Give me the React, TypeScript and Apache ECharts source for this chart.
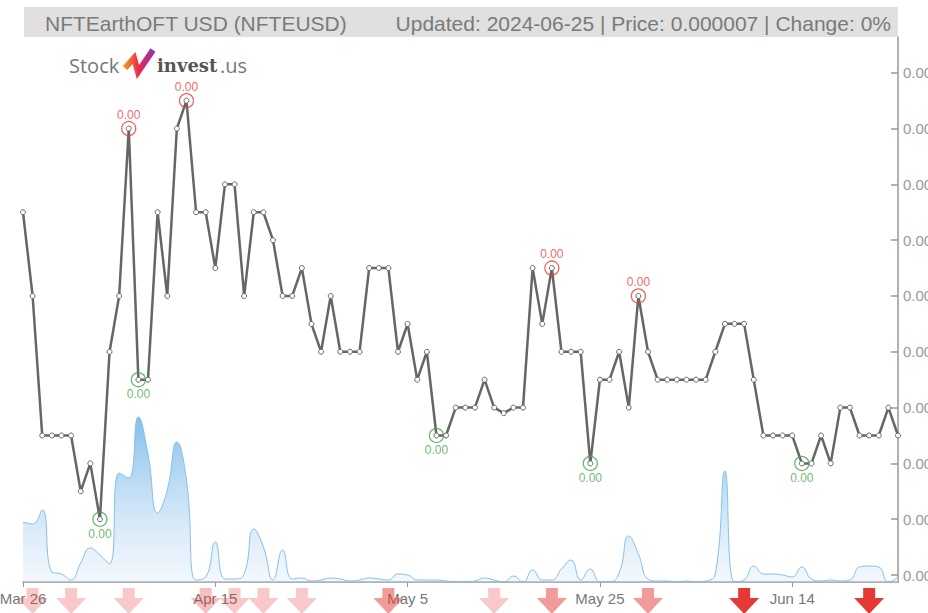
import { useEffect, useRef } from 'react';
import * as echarts from 'echarts';

const dates = [
  '2024-03-26','2024-03-27','2024-03-28','2024-03-29','2024-03-30','2024-03-31',
  '2024-04-01','2024-04-02','2024-04-03','2024-04-04','2024-04-05','2024-04-06','2024-04-07','2024-04-08','2024-04-09','2024-04-10',
  '2024-04-11','2024-04-12','2024-04-13','2024-04-14','2024-04-15','2024-04-16','2024-04-17','2024-04-18','2024-04-19','2024-04-20',
  '2024-04-21','2024-04-22','2024-04-23','2024-04-24','2024-04-25','2024-04-26','2024-04-27','2024-04-28','2024-04-29','2024-04-30',
  '2024-05-01','2024-05-02','2024-05-03','2024-05-04','2024-05-05','2024-05-06','2024-05-07','2024-05-08','2024-05-09','2024-05-10',
  '2024-05-11','2024-05-12','2024-05-13','2024-05-14','2024-05-15','2024-05-16','2024-05-17','2024-05-18','2024-05-19','2024-05-20',
  '2024-05-21','2024-05-22','2024-05-23','2024-05-24','2024-05-25','2024-05-26','2024-05-27','2024-05-28','2024-05-29','2024-05-30','2024-05-31',
  '2024-06-01','2024-06-02','2024-06-03','2024-06-04','2024-06-05','2024-06-06','2024-06-07','2024-06-08','2024-06-09','2024-06-10',
  '2024-06-11','2024-06-12','2024-06-13','2024-06-14','2024-06-15','2024-06-16','2024-06-17','2024-06-18','2024-06-19','2024-06-20',
  '2024-06-21','2024-06-22','2024-06-23','2024-06-24','2024-06-25',
];

const priceValues = [
  0.0000078, 0.0000075, 0.0000070, 0.0000070, 0.0000070, 0.0000070, 0.0000068, 0.0000069, 0.0000067, 0.0000073,
  0.0000075, 0.0000081, 0.0000072, 0.0000072, 0.0000078, 0.0000075, 0.0000081, 0.0000082, 0.0000078, 0.0000078,
  0.0000076, 0.0000079, 0.0000079, 0.0000075, 0.0000078, 0.0000078, 0.0000077, 0.0000075, 0.0000075, 0.0000076,
  0.0000074, 0.0000073, 0.0000075, 0.0000073, 0.0000073, 0.0000073, 0.0000076, 0.0000076, 0.0000076, 0.0000073,
  0.0000074, 0.0000072, 0.0000073, 0.0000070, 0.0000070, 0.0000071, 0.0000071, 0.0000071, 0.0000072, 0.0000071,
  0.00000708, 0.0000071, 0.0000071, 0.0000076, 0.0000074, 0.0000076, 0.0000073, 0.0000073, 0.0000073, 0.0000069,
  0.0000072, 0.0000072, 0.0000073, 0.0000071, 0.0000075, 0.0000073, 0.0000072, 0.0000072, 0.0000072, 0.0000072,
  0.0000072, 0.0000072, 0.0000073, 0.0000074, 0.0000074, 0.0000074, 0.0000072, 0.0000070, 0.0000070, 0.0000070,
  0.0000070, 0.0000069, 0.0000069, 0.0000070, 0.0000069, 0.0000071, 0.0000071, 0.0000070, 0.0000070, 0.0000070,
  0.0000071, 0.0000070,
];

// volume (thousands)
const volumeValues = [
  60, 58, 72, 10, 8, 2, 19, 34, 27, 18,
  109, 104, 165, 128, 69, 92, 140, 102, 2, 5,
  40, 3, 3, 8, 53, 35, 2, 32, 3, 4,
  1, 2, 4, 3, 1, 2, 4, 3, 2, 8,
  7, 2, 2, 2, 1, 0, 0, 1, 4, 2,
  0, 6, 0, 12, 2, 2, 13, 22, 2, 13,
  0, 0, 9, 46, 28, 3, 1, 1, 0, 1,
  0, 1, 8, 111, 0, 2, 16, 8, 8, 7,
  5, 15, 3, 1, 2, 1, 2, 15, 16, 15,
  0, 5,
];

const peakIndices = [11, 17, 55, 64];
const troughIndices = [8, 12, 43, 59, 81];
const sellSignalIndices = [1, 5, 11, 19, 22, 25, 29, 38, 49, 55, 65, 75, 88];
const sellSignalStrength = [0.27, 0.27, 0.27, 0.32, 0.27, 0.27, 0.27, 0.5, 0.27, 0.5, 0.5, 1, 1];

const priceTicks = [
  0.0000065, 0.0000067, 0.0000069, 0.0000071, 0.0000073,
  0.0000075, 0.0000077, 0.0000079, 0.0000081, 0.0000083,
];
const priceAxisMin = 0.000006475;
const priceAxisMax = 0.000008428;
const volumeAxisMax = 545;
const labelEvery = 20;

const titleLeft = 'NFTEarthOFT USD (NFTEUSD)';
const titleRight = 'Updated: 2024-06-25 | Price: 0.000007 | Change: 0%';
const monthNames = ['Jan', 'Feb', 'Mar', 'Apr', 'May', 'Jun', 'Jul', 'Aug', 'Sep', 'Oct', 'Nov', 'Dec'];

const FONT = '"Liberation Sans", Arial, sans-serif';
const ARROW = 'path://M9,0 L21,0 L21,10 L30,10 L15,26 L0,10 L9,10 Z';

export default function App() {
  const ref = useRef<HTMLDivElement>(null);

  useEffect(() => {
    if (!ref.current) return;
    const chart = echarts.init(ref.current, undefined, { renderer: 'svg' });

    const fmtDate = (d: string) => {
      const [, m, day] = d.split('-');
      return `${monthNames[parseInt(m, 10) - 1]} ${parseInt(day, 10)}`;
    };

    const option: any = {
      animation: false,
      backgroundColor: '#fff',
      textStyle: { fontFamily: FONT },
      grid: {
        left: 23,
        right: 30,
        top: 37,
        bottom: 31,
        containLabel: false,
        outerBoundsMode: 'none',
      },
      xAxis: {
        type: 'category',
        data: dates,
        boundaryGap: false,
        axisLine: { lineStyle: { color: '#999', width: 1.5 } },
        axisTick: {
          show: true,
          length: 5,
          interval: (i: number) => i % labelEvery === 0,
          lineStyle: { color: '#999' },
        },
        axisLabel: {
          interval: (i: number) => i % labelEvery === 0,
          formatter: (v: string) => fmtDate(v),
          color: '#777',
          fontSize: 15,
          fontFamily: FONT,
          margin: 9,
        },
        splitLine: { show: false },
      },
      yAxis: [
        {
          type: 'value',
          position: 'right',
          min: priceAxisMin,
          max: priceAxisMax,
          axisLine: { show: true, lineStyle: { color: '#999', width: 1.5 } },
          axisTick: {
            show: true,
            inside: true,
            length: 7,
            customValues: priceTicks,
            lineStyle: { color: '#999', width: 1.5 },
          },
          axisLabel: {
            customValues: priceTicks,
            formatter: (v: number) => v.toFixed(2),
            color: '#999',
            fontSize: 15,
            fontFamily: FONT,
            margin: 5,
          },
          splitLine: { show: false },
        },
        {
          type: 'value',
          show: false,
          min: 0,
          max: volumeAxisMax,
          splitLine: { show: false },
        },
      ],
      series: [
        {
          name: 'Volume',
          type: 'line',
          yAxisIndex: 1,
          data: volumeValues,
          smooth: true,
          symbol: 'none',
          clip: false,
          z: 1,
          lineStyle: { color: '#86c0ea', width: 1 },
          areaStyle: {
            color: new echarts.graphic.LinearGradient(0, 0, 0, 1, [
              { offset: 0, color: 'rgba(70,158,224,0.95)' },
              { offset: 1, color: 'rgba(215,232,249,0.45)' },
            ]),
          },
        },
        {
          name: 'Price',
          type: 'line',
          yAxisIndex: 0,
          data: priceValues,
          symbol: 'circle',
          symbolSize: 5,
          showSymbol: true,
          showAllSymbol: true,
          z: 3,
          itemStyle: { color: '#fff', borderColor: '#666', borderWidth: 1 },
          lineStyle: { color: '#666', width: 2.5 },
        },
        {
          name: 'Peaks',
          type: 'scatter',
          yAxisIndex: 0,
          data: peakIndices.map((i) => [i, priceValues[i]]),
          symbol: 'circle',
          symbolSize: 14,
          z: 4,
          itemStyle: { color: 'rgba(0,0,0,0)', borderColor: '#ee3d3d', borderWidth: 1.3 },
          label: {
            show: true,
            position: 'top',
            distance: 0,
            formatter: (p: any) => Number(p.value[1]).toFixed(2),
            color: '#ee3d3d',
            fontSize: 12,
            fontFamily: FONT,
          },
        },
        {
          name: 'Troughs',
          type: 'scatter',
          yAxisIndex: 0,
          data: troughIndices.map((i) => [i, priceValues[i]]),
          symbol: 'circle',
          symbolSize: 14,
          z: 4,
          itemStyle: { color: 'rgba(0,0,0,0)', borderColor: '#47a84b', borderWidth: 1.3 },
          label: {
            show: true,
            position: 'bottom',
            distance: 1,
            formatter: (p: any) => Number(p.value[1]).toFixed(2),
            color: '#47a84b',
            fontSize: 12,
            fontFamily: FONT,
          },
        },
        {
          name: 'Sell',
          type: 'scatter',
          yAxisIndex: 1,
          clip: false,
          z: 0,
          symbol: ARROW,
          symbolSize: [30, 26],
          symbolOffset: [0, 19],
          data: sellSignalIndices.map((i, k) => ({
            value: [i, 0],
            itemStyle: { opacity: sellSignalStrength[k] },
          })),
          itemStyle: { color: '#e53935' },
        },
      ],
      graphic: [
        {
          type: 'rect',
          shape: { x: 24, y: 7, width: 874, height: 30 },
          style: { fill: '#e0e0e0' },
          z: 10,
        },
        {
          type: 'text',
          x: 45,
          y: 23,
          style: {
            text: titleLeft,
            font: `21px ${FONT}`,
            fill: '#7a7a7a',
            verticalAlign: 'middle',
            align: 'left',
          },
          z: 11,
        },
        {
          type: 'text',
          x: 891,
          y: 23,
          style: {
            text: titleRight,
            font: `21px ${FONT}`,
            fill: '#7a7a7a',
            verticalAlign: 'middle',
            align: 'right',
          },
          z: 11,
        },
        {
          type: 'text',
          x: 69,
          y: 65,
          style: {
            text: 'Stock',
            font: '20px "Open Sans", sans-serif',
            fill: '#777',
            verticalAlign: 'middle',
          },
          z: 11,
        },
        {
          type: 'polyline',
          shape: { points: [[125, 68], [134, 58], [138, 72], [153, 50]] },
          style: {
            lineWidth: 6,
            lineJoin: 'miter',
            fill: 'none',
            stroke: new echarts.graphic.LinearGradient(0, 0, 1, 0, [
              { offset: 0, color: '#f7931e' },
              { offset: 0.5, color: '#e8294f' },
              { offset: 1, color: '#9b2fae' },
            ]),
          },
          z: 11,
        },
        {
          type: 'text',
          x: 157,
          y: 65,
          style: {
            text: 'invest',
            font: 'bold 18px "DejaVu Serif", serif',
            fill: '#555',
            verticalAlign: 'middle',
          },
          z: 11,
        },
        {
          type: 'text',
          x: 220,
          y: 65,
          style: {
            text: '.us',
            font: '20px "Open Sans", sans-serif',
            fill: '#777',
            verticalAlign: 'middle',
          },
          z: 11,
        },
      ],
    };

    chart.setOption(option);
    return () => chart.dispose();
  }, []);

  return (
    <div
      ref={ref}
      style={{ position: 'absolute', left: 0, top: 0, width: 928, height: 613 }}
    />
  );
}
